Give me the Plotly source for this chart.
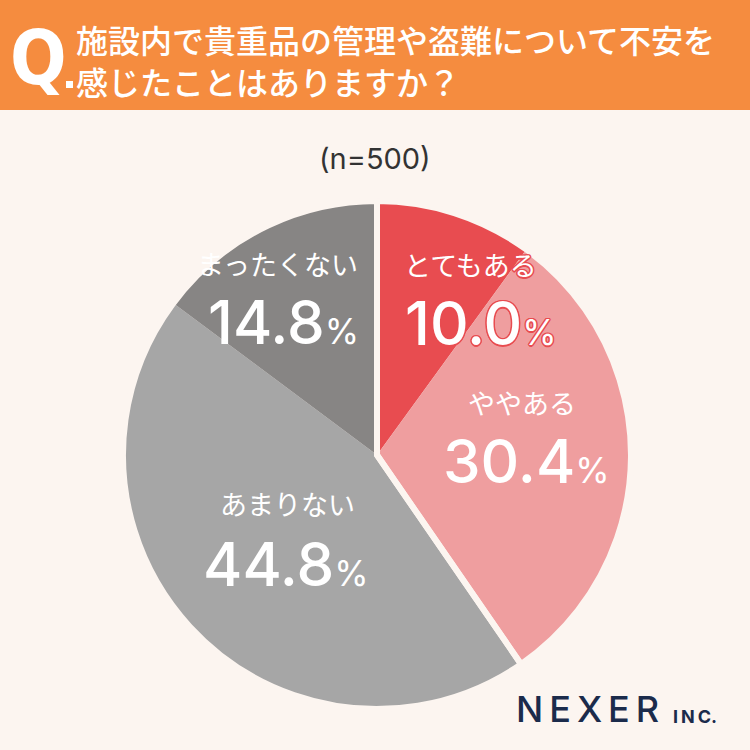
import plotly.graph_objects as go

categories = ["とてもある", "ややある", "あまりない", "まったくない"]
values = [10.0, 30.4, 44.8, 14.8]
colors = ["#E84C50", "#EF9E9F", "#A6A6A6", "#878584"]
groups = ["ある", "ない"]
group_values = [values[0] + values[1], values[2] + values[3]]

title_lines = ["施設内で貴重品の管理や盗難について不安を", "感じたことはありますか？"]
sample = "(n=500)"

BG = "#FCF5F0"
ORANGE = "#F58C3F"
W = H = 750

dom_x = [(377 - 254) / W, (377 + 254) / W]
dom_y = [1 - 709 / H, 1 - 201 / H]

fig = go.Figure()
fig.add_trace(go.Pie(
    labels=categories, values=values, sort=False, direction="clockwise",
    rotation=0, marker=dict(colors=colors, line=dict(width=0)),
    textinfo="none", hoverinfo="skip", showlegend=False,
    domain=dict(x=dom_x, y=dom_y),
))
# gap between the "ある" group and "ない" group
fig.add_trace(go.Pie(
    labels=groups, values=group_values, sort=False, direction="clockwise",
    rotation=0, marker=dict(colors=["rgba(0,0,0,0)"] * 2, line=dict(width=6, color=BG)),
    textinfo="none", hoverinfo="skip", showlegend=False,
    domain=dict(x=dom_x, y=dom_y),
))

def px(x, y):
    return x / W, 1 - y / H

shapes = [
    dict(type="rect", xref="paper", yref="paper", x0=0, x1=1, y0=1 - 110 / H, y1=1,
         fillcolor=ORANGE, line=dict(width=0), layer="below"),
    dict(type="rect", xref="paper", yref="paper", x0=66 / W, x1=73 / W, y0=1 - 88 / H, y1=1 - 81 / H,
         fillcolor="white", line=dict(width=0)),
]

JP = "Noto Sans CJK JP"
NUM = "Inter"

ann = []
def add(text, x, y, size, color="white", family=JP, xanchor="center", shadow=None, weight=None, align="center"):
    xx, yy = px(x, y)
    f = dict(size=size, color=color, family=family)
    if shadow:
        f["shadow"] = shadow
    if weight:
        f["weight"] = weight
    ann.append(dict(text=text, x=xx, y=yy, xref="paper", yref="paper", showarrow=False,
                    xanchor=xanchor, yanchor="middle", font=f, align=align))

# header
add("Q", 38, 58, 74, family="DejaVu Sans Condensed, Liberation Sans Narrow, DejaVu Sans", weight="bold")
add("<br>".join(title_lines), 74, 60, 32, xanchor="left", weight=500, align="left")

add(sample, 375, 158, 29, color="#333333", family=NUM)

red_stroke = ("1.5px 0 0 #E84C50, -1.5px 0 0 #E84C50, 0 1.5px 0 #E84C50, 0 -1.5px 0 #E84C50, "
              "1px 1px 0 #E84C50, -1px -1px 0 #E84C50, 1px -1px 0 #E84C50, -1px 1px 0 #E84C50")

def pct(v):
    return f"{v:.1f}<span style='font-size:35px;font-weight:400'>%</span>"

add(categories[0], 470, 265, 27, shadow=red_stroke)
add(pct(values[0]), 481, 323, 60, family=NUM, shadow=red_stroke, weight=500)
add(categories[1], 522, 402, 27)
add(pct(values[1]), 526, 461, 60, family=NUM, weight=500)
add(categories[2], 287, 503, 27)
add(pct(values[2]), 286, 564, 60, family=NUM, weight=500)
add(categories[3], 277, 263, 27)
add(pct(values[3]), 283, 322, 60, family=NUM, weight=500)

# logo
add("N\u2006E\u2006X\u2006E\u2006R", 514, 709, 36, color="#1B2B4B", family=NUM, xanchor="left", weight=500)
add("I\u2006N\u2006C.", 671, 716, 18, color="#1B2B4B", family=NUM, xanchor="left", weight="bold")

fig.update_layout(
    width=W, height=H, margin=dict(l=0, r=0, t=0, b=0),
    paper_bgcolor=BG, plot_bgcolor=BG, shapes=shapes, annotations=ann,
)
fig.write_html("out.html", config={"displayModeBar": False},
               post_script="document.body.style.margin='0';document.body.style.background='%s';" % BG)
